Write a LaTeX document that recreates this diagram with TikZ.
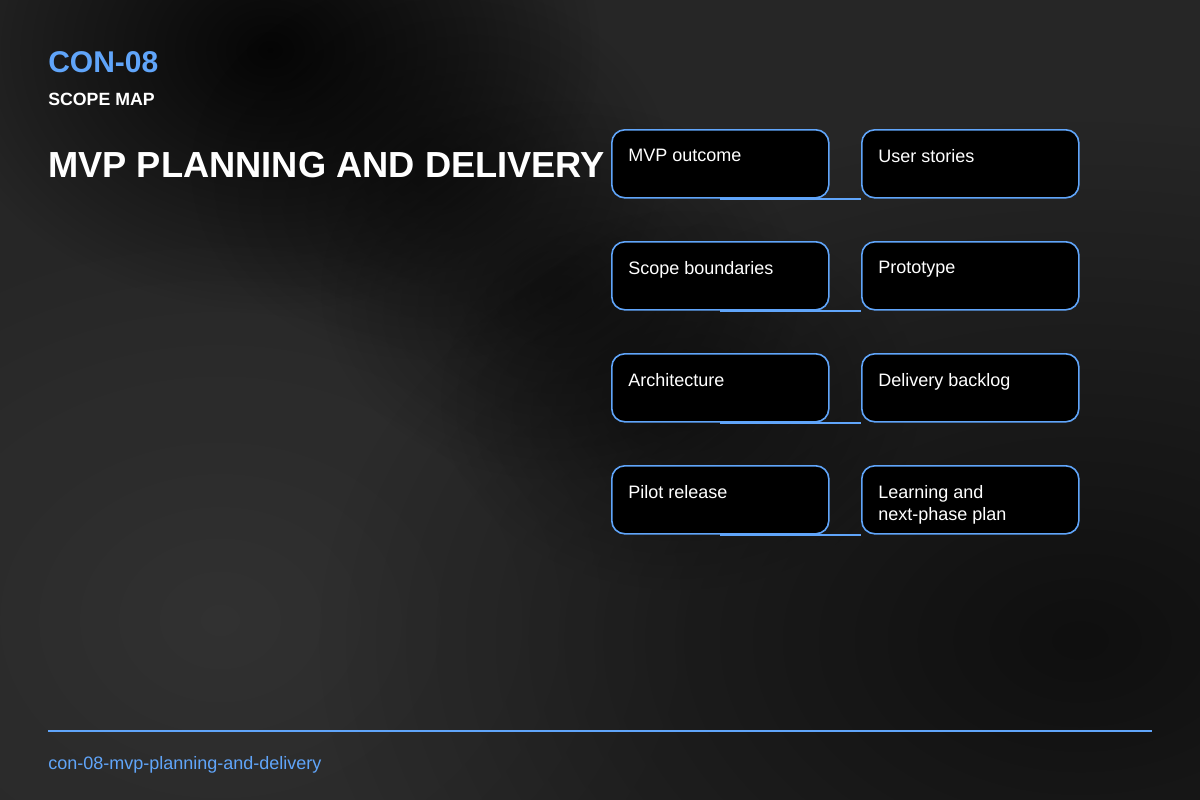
\documentclass[tikz,border=0pt]{standalone}
\usepackage{fontspec}
\setmainfont{Liberation Sans}
\usetikzlibrary{fadings}

\definecolor{accent}{RGB}{96,165,250}
\definecolor{pagebg}{RGB}{38,38,38}
\tikzfading[name=fuzzy, inner color=transparent!0, outer color=transparent!100]

\tikzset{
  card/.style={draw=accent, line width=1.2pt, fill=black, rounded corners=9.75pt, minimum width=162.75pt, minimum height=51pt, anchor=north west, inner sep=0},
  cardtext/.style={anchor=north west, inner sep=0, text=white, align=left, font=\fontsize{13.5}{16.5}\selectfont},
  link/.style={draw=accent, line width=1.5pt},
  blob/.style={black, path fading=fuzzy},
}

\begin{document}
\begin{tikzpicture}[x=0.75pt,y=0.75pt,yscale=-1,xscale=1]
\useasboundingbox (0,0) rectangle (1200,800);

%Shape: background
\fill [pagebg] (0,0) rectangle (1200,800);
\fill [white, fill opacity=0.05, path fading=fuzzy] (220,620) ellipse [x radius=520, y radius=420];
\fill [blob, fill opacity=0.85] (270,50) ellipse [x radius=330, y radius=260];
\fill [blob, fill opacity=0.45] (430,170) ellipse [x radius=240, y radius=190];
\fill [blob, fill opacity=0.45] (560,290) ellipse [x radius=240, y radius=190];
\fill [blob, fill opacity=0.4] (680,400) ellipse [x radius=240, y radius=190];
\fill [blob, fill opacity=0.6] (1080,640) ellipse [x radius=760, y radius=520];

% Text Node
\node (code) [anchor=base west, inner sep=0, text=accent, font=\fontsize{22.5}{27}\selectfont\bfseries] at (48,72) {CON-08};
% Text Node
\node (kind) [anchor=base west, inner sep=0, text=white, font=\fontsize{13.3}{16}\selectfont\bfseries] at (48,105) {SCOPE MAP};
% Text Node
\node (title) [anchor=base west, inner sep=0, text=white, font=\fontsize{27.2}{32}\selectfont\bfseries] at (48,177) {MVP PLANNING AND DELIVERY};

%Shape: cards
\node (outcome) [card] at (611,129) {};
\node (stories) [card] at (861,129) {};
\node (bounds) [card] at (611,241) {};
\node (proto) [card] at (861,241) {};
\node (arch) [card] at (611,353) {};
\node (backlog) [card] at (861,353) {};
\node (pilot) [card] at (611,465) {};
\node (nextplan) [card] at (861,465) {};

% Text Node
\path (outcome.north west) ++(17,20) node [cardtext] {MVP outcome};
\path (stories.north west) ++(17,20) node [cardtext] {User stories};
\path (bounds.north west) ++(17,20) node [cardtext] {Scope boundaries};
\path (proto.north west) ++(17,20) node [cardtext] {Prototype};
\path (arch.north west) ++(17,20) node [cardtext] {Architecture};
\path (backlog.north west) ++(17,20) node [cardtext] {Delivery backlog};
\path (pilot.north west) ++(17,20) node [cardtext] {Pilot release};
\path (nextplan.north west) ++(17,20) node [cardtext] {Learning and\\next-phase plan};

%Straight Lines
\foreach \a/\b in {outcome/stories, bounds/proto, arch/backlog, pilot/nextplan}
  \draw [link] (\a.south) -- (\b.south west);

%Straight Lines
\coordinate (ruleL) at (48,731);
\coordinate (ruleR) at (1152,731);
\draw [accent, line width=1.5pt] (ruleL) -- (ruleR);
% Text Node
\node (slug) [anchor=base west, inner sep=0, text=accent, font=\fontsize{13.5}{16}\selectfont] at (48,769) {con-08-mvp-planning-and-delivery};

\end{tikzpicture}
\end{document}
